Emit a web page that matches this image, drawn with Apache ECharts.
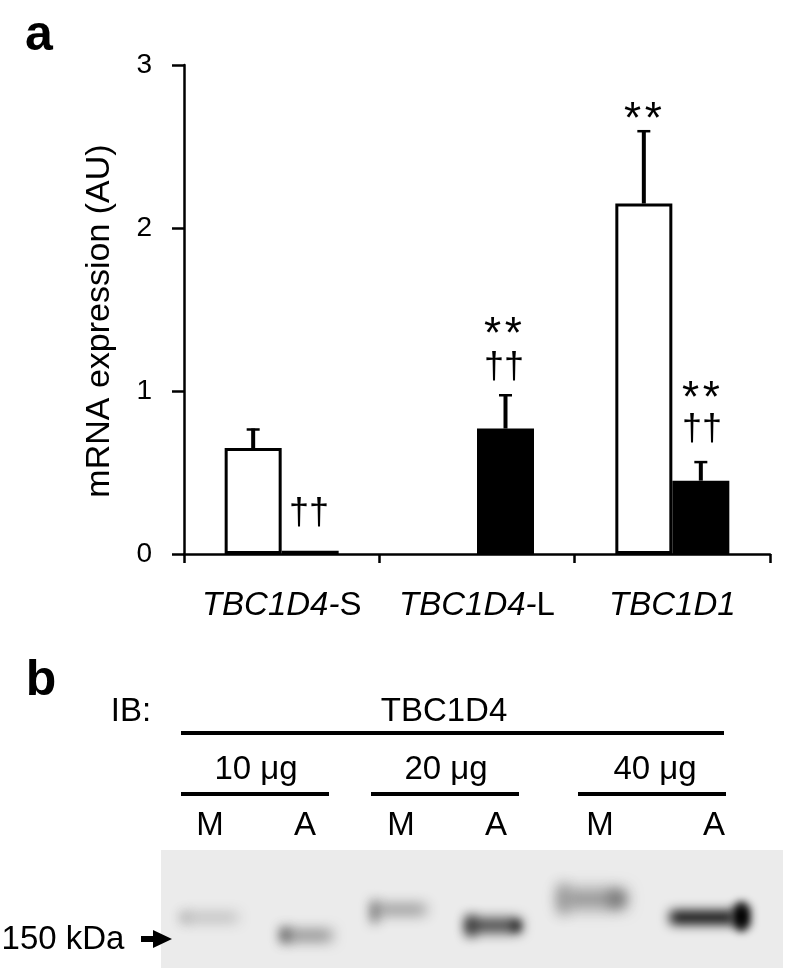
<!DOCTYPE html>
<html>
<head>
<meta charset="utf-8">
<title>TBC1D4 expression</title>
<script src="https://cdn.jsdelivr.net/npm/echarts@6/dist/echarts.min.js"></script>
<style>
  html, body { margin: 0; padding: 0; background: #fff; }
  #main { width: 786px; height: 968px; }
</style>
</head>
<body>
<div id="main"></div>
<script>
  var categories = ['TBC1D4-S', 'TBC1D4-L', 'TBC1D1'];
  var whiteValues = [0.65, null, 2.15];
  var blackValues = [0.02, 0.77, 0.45];
  var whiteTops = [0.77, null, 2.6];
  var blackTops = [null, 0.98, 0.57];
  var yTicks = [0, 1, 2, 3];

  // [x, y, text]
  var sigLabels = [
    [643, 121, '*\u200A*'], [503, 336, '*\u200A*'], [701, 400, '*\u200A*']
  ];
  var daggerLabels = [
    [309, 514, '††'], [504, 368, '††'], [702, 430, '††']
  ];
  // [label, center x]
  var doseLabels = [['10 μg', 256], ['20 μg', 446], ['40 μg', 655]];
  var laneLabels = [['M', 210], ['A', 305], ['M', 401], ['A', 496], ['M', 600], ['A', 714]];
  // [x1, x2, y, width]
  var rules = [[181, 724, 733, 4], [181, 329, 794, 4], [371, 519, 794, 4], [578, 726, 794, 4]];
  // blot bands: [x, y, w, h, blur, colour]
  var bands = [
    [184, 914, 54, 7, 7, '#a8a8a8'],
    [181, 913, 8, 9, 6, '#a0a0a0'],
    [284, 931, 48, 9, 7, '#707070'],
    [281, 928, 8, 14, 6, '#404040'],
    [376, 905, 50, 9, 7, '#808080'],
    [372, 901, 5, 22, 6, '#303030'],
    [468, 920, 52, 11, 7, '#101010'],
    [467, 916, 7, 20, 6, '#000000'],
    [512, 921, 8, 10, 5, '#000000'],
    [562, 892, 62, 14, 9, '#707070'],
    [559, 884, 8, 30, 7, '#808080'],
    [610, 892, 14, 14, 7, '#606060'],
    [670, 911, 65, 13, 6, '#000000'],
    [733, 906, 17, 21, 5, '#000000'],
    [738, 902, 7, 29, 4, '#000000']
  ];

  var font = '"Liberation Sans", Arial, sans-serif';

  function text(x, y, str, size, extra) {
    return {
      type: 'text',
      x: x, y: y,
      style: Object.assign({
        text: str, font: size + 'px ' + font, fill: '#000',
        textAlign: 'center', textVerticalAlign: 'middle'
      }, extra || {})
    };
  }

  function errorBars(tops, offset) {
    return {
      type: 'custom',
      silent: true,
      z: 1,
      data: tops.map(function (v, i) { return [i, v]; }),
      encode: { x: 0, y: 1 },
      renderItem: function (params, api) {
        if (api.value(1) == null || isNaN(api.value(1))) return;
        var idx = api.value(0);
        var top = api.coord([idx, api.value(1)]);
        var base = offset < 0 ? whiteValues[idx] : blackValues[idx];
        var bottom = api.coord([idx, base]);
        var x = top[0] + offset;
        var st = { stroke: '#000', lineWidth: 4 };
        return {
          type: 'group',
          children: [
            { type: 'line', shape: { x1: x, y1: top[1], x2: x, y2: bottom[1] }, style: st },
            { type: 'line', shape: { x1: x - 6.5, y1: top[1] + 1, x2: x + 6.5, y2: top[1] + 1 }, style: { stroke: '#000', lineWidth: 2.5 } }
          ]
        };
      }
    };
  }

  var graphics = [
    text(39, 36, 'a', 50, { font: 'bold 50px ' + font }),
    text(41, 681, 'b', 50, { font: 'bold 50px ' + font }),
    text(131, 712, 'IB:', 33),
    text(444, 712, 'TBC1D4', 33),
    text(100, 321, 'mRNA expression (AU)', 34),
    // gel background
    { type: 'rect', z: -1, shape: { x: 161, y: 850, width: 622, height: 118 }, style: { fill: '#ebebeb' } },
    text(63, 940, '150 kDa', 33),
    { type: 'polygon', shape: { points: [[141, 936], [153, 936], [153, 930], [172, 939], [153, 948], [153, 942], [141, 942]] }, style: { fill: '#000' } }
  ];
  graphics[4].rotation = Math.PI / 2;

  sigLabels.forEach(function (s) { graphics.push(text(s[0], s[1], s[2], 44)); });
  daggerLabels.forEach(function (s) { graphics.push(text(s[0], s[1], s[2], 36)); });
  doseLabels.forEach(function (s) { graphics.push(text(s[1], 770, s[0], 33)); });
  laneLabels.forEach(function (s) { graphics.push(text(s[1], 826, s[0], 33)); });
  rules.forEach(function (r) {
    graphics.push({ type: 'line', shape: { x1: r[0], y1: r[2], x2: r[1], y2: r[2] }, style: { stroke: '#000', lineWidth: r[3] } });
  });
  // draw bands off to the side and only let their blurred shadow land on the gel
  bands.forEach(function (b) {
    graphics.push({
      type: 'rect',
      shape: { x: b[0] - 1000, y: b[1], width: b[2], height: b[3], r: 2 },
      style: { fill: '#000', shadowColor: b[5], shadowBlur: b[4] * 2, shadowOffsetX: 1000 }
    });
  });

  var myChart = echarts.init(document.getElementById('main'), null, { renderer: 'canvas' });
  var option = {
    animation: false,
    backgroundColor: '#fff',
    textStyle: { fontFamily: font },
    grid: { left: 184, right: 16, top: 65, height: 489 },
    xAxis: {
      type: 'category',
      data: categories,
      axisLine: { lineStyle: { color: '#000', width: 2.5 } },
      axisTick: { show: true, alignWithLabel: false, length: 9, lineStyle: { color: '#000', width: 2.5 } },
      axisLabel: {
        color: '#000', fontSize: 33, margin: 35, fontFamily: font,
        interval: 0,
        formatter: function (v) {
          var parts = v.split('-');
          return parts.length > 1 ? '{i|' + parts[0] + '-}{n|' + parts[1] + '}' : '{i|' + v + '}';
        },
        rich: {
          i: { fontStyle: 'italic', fontSize: 33, fontFamily: font, color: '#000' },
          n: { fontSize: 33, fontFamily: font, color: '#000' }
        }
      }
    },
    yAxis: {
      type: 'value',
      min: 0,
      max: 3,
      interval: 1,
      splitLine: { show: false },
      axisLine: { show: true, onZero: false, lineStyle: { color: '#000', width: 2.5 } },
      axisTick: { show: true, length: 12, lineStyle: { color: '#000', width: 2.5 } },
      axisLabel: {
        color: '#000', fontSize: 28, margin: 32, fontFamily: font,
        customValues: yTicks
      }
    },
    series: [
      {
        type: 'bar',
        data: whiteValues,
        barWidth: 57,
        barGap: 0,
        itemStyle: { color: '#fff', borderColor: '#000', borderWidth: 3 }
      },
      {
        type: 'bar',
        data: blackValues,
        barWidth: 57,
        barGap: 0,
        itemStyle: { color: '#000', borderColor: '#000', borderWidth: 0 }
      },
      errorBars(whiteTops, -28.5),
      errorBars(blackTops, 28.5)
    ],
    graphic: { elements: graphics }
  };
  myChart.setOption(option);
</script>
</body>
</html>
